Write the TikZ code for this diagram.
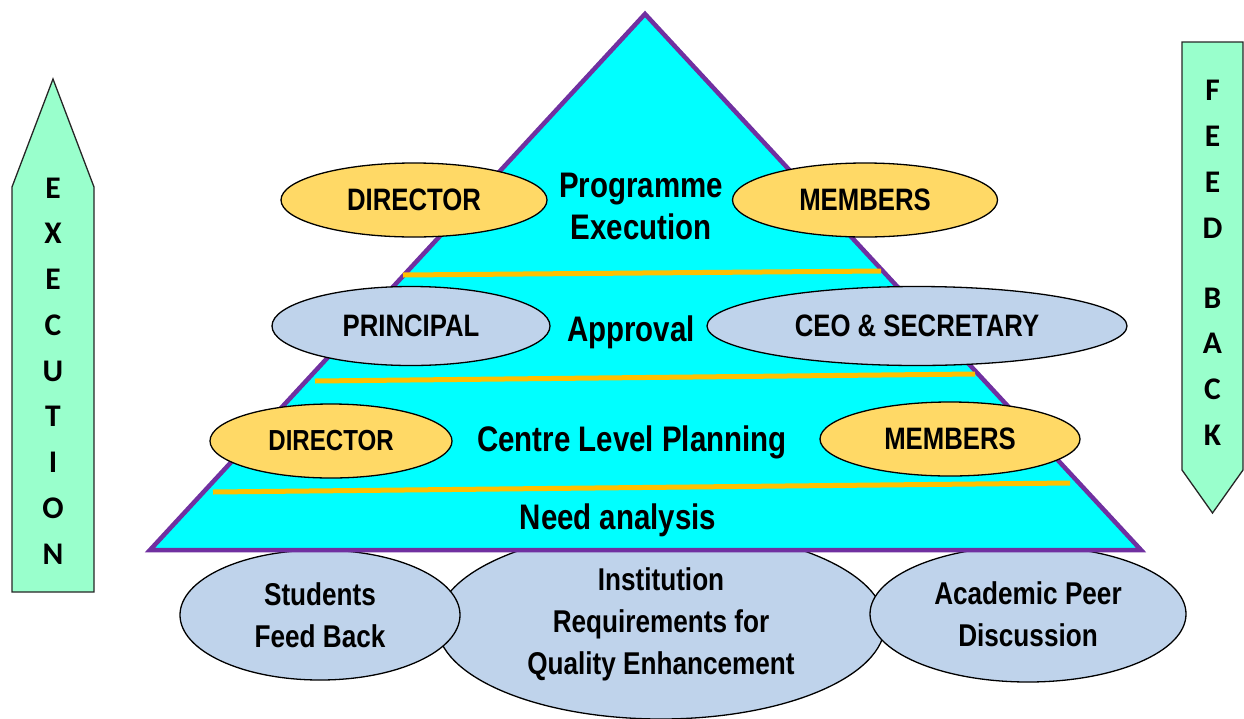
\documentclass[tikz,border=0pt]{standalone}
\usepackage{fontspec}
\setmainfont{Liberation Sans}
\newfontfamily\nb{Liberation Sans}[FakeStretch=0.83]
\newfontfamily\cb{Carlito}
\usetikzlibrary{shapes.geometric}
\definecolor{tri}{HTML}{00FFFF}
\definecolor{purp}{HTML}{7030A0}
\definecolor{orl}{HTML}{FFC000}
\definecolor{yel}{HTML}{FFD966}
\definecolor{blu}{HTML}{BFD3EB}
\definecolor{mint}{HTML}{99FFCC}
\begin{document}
\begin{tikzpicture}[x=1pt,y=-1pt,
  oval/.style={ellipse, draw=black, line width=1.3pt, inner sep=0pt, align=center,
    font=\nb\bfseries\fontsize{31}{36}\selectfont},
  yoval/.style={oval, fill=yel},
  boval/.style={oval, fill=blu},
  loval/.style={oval, fill=blu, font=\nb\bfseries\fontsize{31.5}{42}\selectfont},
  tlabel/.style={inner sep=0pt, align=center, font=\nb\bfseries\fontsize{35.5}{42}\selectfont},
  arrowtext/.style={inner sep=0pt, align=center, font=\cb\bfseries\fontsize{31.5}{45.75}\selectfont},
  arrowbody/.style={fill=mint, draw=black!85, line width=1.3pt, line join=miter},
  band/.style={orl, line width=5pt}]
\useasboundingbox (0,0) rectangle (1244,718);

% side arrows
\draw[arrowbody] (12,592) -- (12,187) -- (53,79) -- (94,187) -- (94,592) -- cycle;
\node[arrowtext] (exe) at (53,371) {E\\X\\E\\C\\U\\T\\I\\O\\N};
\draw[arrowbody] (1182,42) -- (1243,42) -- (1243,470) -- (1212.5,513) -- (1182,470) -- cycle;
\node[arrowtext] (fb) at (1212.5,263) {F\\E\\E\\D\\[24.25pt]B\\A\\C\\K};

% bottom ellipses
\node[loval, minimum width=448pt, minimum height=190pt] (inst) at (661,624)
  {Institution\\Requirements for\\Quality Enhancement};
\node[loval, minimum width=280pt, minimum height=130pt] (stud) at (320,615)
  {Students\\Feed Back};
\node[loval, minimum width=316pt, minimum height=136pt] (acad) at (1028,614)
  {Academic Peer\\Discussion};

% pyramid
\draw[fill=tri, draw=purp, line width=4.5pt, line join=miter] (645,14) -- (1141,550) -- (150,550) -- cycle;
\draw[band] (403,275) -- (881,271);
\draw[band] (315,381) -- (975,374);
\draw[band] (213,492) -- (1070,483);

% level labels
\node[tlabel] (pe) at (641,206) {Programme\\Execution};
\node[tlabel] (ap) at (631,332) {Approval};
\node[tlabel] (clp) at (632,442) {Centre Level Planning};
\node[tlabel] (na) at (618,520) {Need analysis};

% role ellipses
\node[yoval, minimum width=266pt, minimum height=74pt] (d1) at (414,200) {DIRECTOR};
\node[yoval, minimum width=265pt, minimum height=74pt] (m1) at (865,200) {MEMBERS};
\node[boval, minimum width=278pt, minimum height=79pt] (pr) at (411,326) {PRINCIPAL};
\node[boval, minimum width=420pt, minimum height=79pt] (ceo) at (917,326) {CEO \& SECRETARY};
\node[yoval, minimum width=242pt, minimum height=74pt, font=\nb\bfseries\fontsize{29}{34}\selectfont] (d3) at (331,441) {DIRECTOR};
\node[yoval, minimum width=260pt, minimum height=74pt] (m3) at (950,439) {MEMBERS};
\end{tikzpicture}
\end{document}
